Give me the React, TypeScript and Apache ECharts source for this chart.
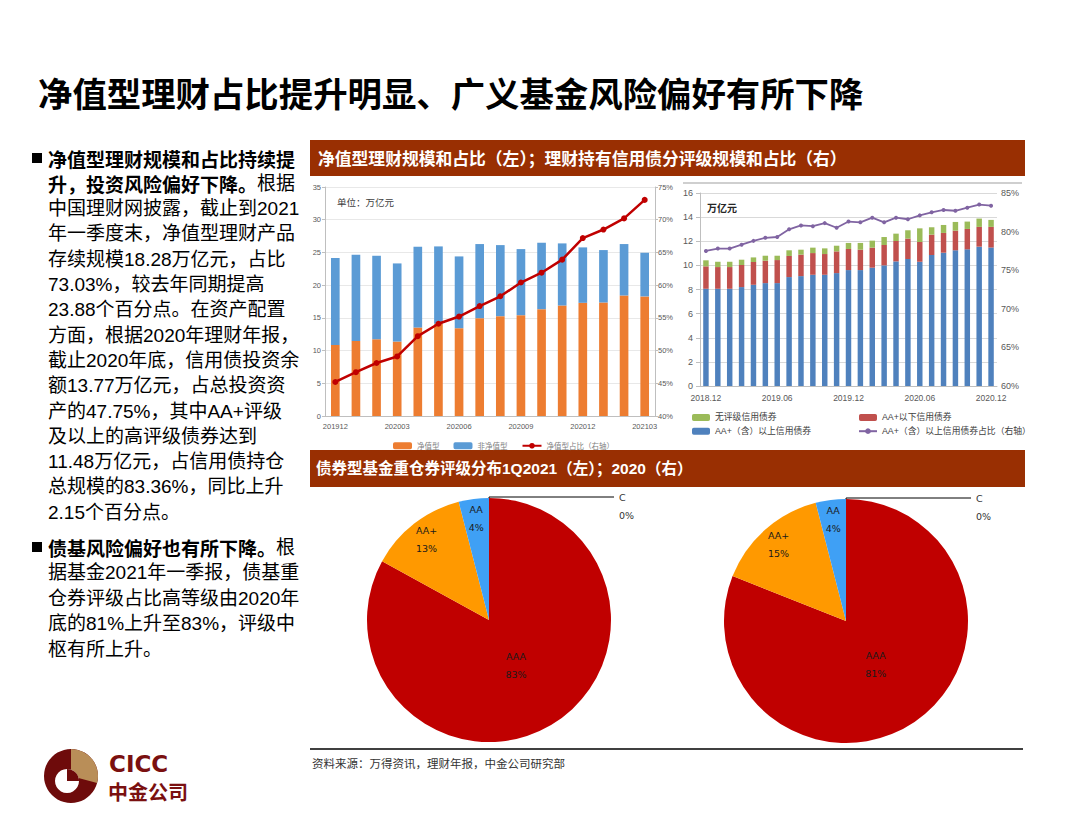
import React, { useEffect, useRef } from 'react';
import * as echarts from 'echarts';

// ---------- Data ----------
const leftMonths = ['201912', '202001', '202002', '202003', '202004', '202005', '202006', '202007', '202008', '202009', '202010', '202011', '202012', '202101', '202102', '202103'];
const netValueScale = [10.87, 11.48, 11.73, 11.38, 13.52, 14.1, 13.42, 14.95, 15.26, 15.41, 16.33, 16.89, 17.3, 17.35, 18.42, 18.28];
const nonNetValueScale = [13.26, 13.16, 12.76, 11.94, 12.35, 11.82, 10.97, 11.33, 10.86, 10.1, 10.15, 9.49, 8.47, 8.01, 7.86, 6.67];
const netValueRatio = [45.2, 46.7, 48.1, 49.1, 52.2, 54.1, 55.2, 56.8, 58.3, 60.4, 61.9, 63.9, 67.2, 68.5, 70.2, 73.03];

const rightMonths = ['2018.12', '2019.01', '2019.02', '2019.03', '2019.04', '2019.05', '2019.06', '2019.07', '2019.08', '2019.09', '2019.10', '2019.11', '2019.12', '2020.01', '2020.02', '2020.03', '2020.04', '2020.05', '2020.06', '2020.07', '2020.08', '2020.09', '2020.10', '2020.11', '2020.12'];
const aaPlusAbove = [8.06, 8.06, 8.06, 8.2, 8.39, 8.53, 8.53, 9.03, 9.11, 9.22, 9.22, 9.36, 9.61, 9.61, 9.81, 10.0, 10.33, 10.53, 10.3, 10.86, 11.05, 11.25, 11.33, 11.55, 11.48];
const belowAaPlus = [1.86, 1.8, 1.8, 1.83, 1.89, 1.86, 1.91, 1.75, 1.78, 1.8, 1.72, 1.8, 1.75, 1.69, 1.66, 1.69, 1.69, 1.69, 1.64, 1.69, 1.64, 1.63, 1.69, 1.64, 1.71];
const unrated = [0.5, 0.44, 0.44, 0.44, 0.38, 0.41, 0.36, 0.47, 0.41, 0.45, 0.47, 0.47, 0.5, 0.56, 0.58, 0.66, 0.61, 0.69, 1.13, 0.61, 0.66, 0.72, 0.61, 0.69, 0.58];
const aaPlusRatio = [77.5, 77.8, 77.8, 78.3, 78.8, 79.2, 79.3, 80.3, 80.8, 80.7, 81.1, 80.5, 81.3, 81.2, 81.8, 81.2, 81.8, 81.6, 82.1, 82.5, 82.8, 82.7, 83.1, 83.5, 83.36];

const ratingNames = ['C', 'AAA', 'AA+', 'AA'];
const rating1Q2021 = [0, 83, 13, 4];
const rating2020 = [0, 81, 15, 4];
const ratingColors = ['#7F7F7F', '#C00000', '#FF9900', '#3FA0F5'];

const slideTitle = '净值型理财占比提升明显、广义基金风险偏好有所下降';
const header1 = '净值型理财规模和占比（左）；理财持有信用债分评级规模和占比（右）';
const header2 = '债券型基金重仓券评级分布1Q2021（左）；2020（右）';
const sourceText = '资料来源：万得资讯，理财年报，中金公司研究部';

const bullet1Lines: Array<[string, string]> = [
  ['净值型理财规模和占比持续提', ''],
  ['升，投资风险偏好下降。', '根据'],
  ['', '中国理财网披露，截止到2021'],
  ['', '年一季度末，净值型理财产品'],
  ['', '存续规模18.28万亿元，占比'],
  ['', '73.03%，较去年同期提高'],
  ['', '23.88个百分点。在资产配置'],
  ['', '方面，根据2020年理财年报，'],
  ['', '截止2020年底，信用债投资余'],
  ['', '额13.77万亿元，占总投资资'],
  ['', '产的47.75%，其中AA+评级'],
  ['', '及以上的高评级债券达到'],
  ['', '11.48万亿元，占信用债持仓'],
  ['', '总规模的83.36%，同比上升'],
  ['', '2.15个百分点。'],
];
const bullet2Lines: Array<[string, string]> = [
  ['债基风险偏好也有所下降。', '根'],
  ['', '据基金2021年一季报，债基重'],
  ['', '仓券评级占比高等级由2020年'],
  ['', '底的81%上升至83%，评级中'],
  ['', '枢有所上升。'],
];

const CJK = '"Noto Sans CJK SC", sans-serif';
const MIX = '"Liberation Sans", "Noto Sans CJK SC", sans-serif';

function paragraph(lines: Array<[string, string]>, y0: number, step: number) {
  return lines.map(([b, n], i) => {
    let text = '';
    if (b) text += '{b|' + b + '}';
    if (n) text += '{n|' + n + '}';
    return {
      type: 'text',
      x: 48,
      y: y0 + i * step,
      style: {
        text,
        verticalAlign: 'middle',
        rich: {
          b: { fontSize: 19, fontWeight: 'bold', fontFamily: CJK, fill: '#000' },
          n: { fontSize: 19, fontWeight: 'normal', fontFamily: MIX, fill: '#000' },
        },
      },
    };
  });
}

const pieLabelText = (p: any) => p.name + '\n' + p.value + '%';

function pieSeries(center: [number, number], values: number[]) {
  const base = {
    type: 'pie',
    center,
    startAngle: 89.99,
    clockwise: true,
    avoidLabelOverlap: false,
    silent: true,
    emphasis: { disabled: true },
  };
  const labelStyle = {
    fontSize: 9.5,
    color: '#1a1a1a',
    lineHeight: 18,
    fontFamily: '"DejaVu Sans", sans-serif',
    formatter: pieLabelText,
  };
  return [
    {
      ...base,
      radius: 122,
      z: 2,
      data: ratingNames.map((name, i) => ({
        name,
        value: values[i],
        itemStyle: { color: ratingColors[i] },
        label:
          i === 0
            ? {
                show: true,
                position: 'outside',
                ...labelStyle,
                color: '#333',
                formatter: (p: any) => ' \n' + p.name + '\n' + p.value + '%',
              }
            : { show: false },
        labelLine:
          i === 0
            ? { show: true, length: 1, length2: 125, lineStyle: { color: '#000', width: 1 } }
            : { show: false },
      })),
    },
    {
      ...base,
      radius: [0, 100],
      z: 3,
      data: ratingNames.map((name, i) => ({
        name,
        value: values[i],
        itemStyle: { color: 'rgba(0,0,0,0)' },
        label: i === 1 ? { show: true, position: 'inside', ...labelStyle } : { show: false },
        labelLine: { show: false },
      })),
    },
    {
      ...base,
      radius: [76, 122],
      z: 3,
      data: ratingNames.map((name, i) => ({
        name,
        value: values[i],
        itemStyle: { color: 'rgba(0,0,0,0)' },
        label: i >= 2 ? { show: true, position: 'inside', ...labelStyle } : { show: false },
        labelLine: { show: false },
      })),
    },
  ];
}

const axisGray = '#BFBFBF';
const labelGray = '#595959';

const option: any = {
  animation: false,
  backgroundColor: '#fff',
  textStyle: { fontFamily: MIX },
  grid: [
    { left: 325, top: 187, width: 330, height: 229 },
    { left: 700, top: 193, width: 297, height: 193 },
  ],
  legend: [
    {
      data: ['净值型', '非净值型', '净值型占比（右轴）'],
      left: 388,
      top: 437,
      itemWidth: 19,
      itemHeight: 7,
      itemGap: 14,
      textStyle: { fontSize: 7.5, color: '#7F7F7F', fontFamily: CJK },
    },
    {
      data: ['无评级信用债券', 'AA+（含）以上信用债券'],
      orient: 'vertical',
      left: 687,
      top: 408,
      itemWidth: 18,
      itemHeight: 7,
      itemGap: 5,
      textStyle: { fontSize: 8.8, color: '#404040', fontFamily: MIX },
    },
    {
      data: ['AA+以下信用债券', 'AA+（含）以上信用债券占比（右轴）'],
      orient: 'vertical',
      left: 853,
      top: 408,
      itemWidth: 18,
      itemHeight: 7,
      itemGap: 5,
      textStyle: { fontSize: 8.8, color: '#404040', fontFamily: MIX },
    },
  ],
  xAxis: [
    {
      type: 'category',
      gridIndex: 0,
      data: leftMonths,
      axisLine: { lineStyle: { color: axisGray } },
      axisTick: { interval: 2, length: 4, lineStyle: { color: axisGray } },
      axisLabel: { interval: 2, fontSize: 7.5, color: labelGray, margin: 7 },
    },
    {
      type: 'category',
      gridIndex: 1,
      data: rightMonths,
      axisLine: { lineStyle: { color: axisGray } },
      axisTick: { interval: 5, length: 4, lineStyle: { color: axisGray } },
      axisLabel: { interval: 5, fontSize: 8.5, color: labelGray, margin: 8 },
    },
  ],
  yAxis: [
    {
      type: 'value',
      gridIndex: 0,
      min: 0,
      max: 35,
      interval: 5,
      axisLine: { show: true, lineStyle: { color: axisGray } },
      axisTick: { show: true, length: 3, lineStyle: { color: axisGray } },
      splitLine: { lineStyle: { color: '#E8E8E8' } },
      axisLabel: { fontSize: 7.5, color: labelGray, margin: 4 },
    },
    {
      type: 'value',
      gridIndex: 0,
      position: 'right',
      min: 40,
      max: 75,
      interval: 5,
      axisLine: { show: true, lineStyle: { color: axisGray } },
      axisTick: { show: true, length: 3, lineStyle: { color: axisGray } },
      splitLine: { show: false },
      axisLabel: { fontSize: 7.5, color: labelGray, margin: 3, formatter: '{value}%' },
    },
    {
      type: 'value',
      gridIndex: 1,
      min: 0,
      max: 16,
      interval: 2,
      axisLine: { show: true, lineStyle: { color: axisGray } },
      axisTick: { show: true, length: 4, lineStyle: { color: axisGray } },
      splitLine: { lineStyle: { color: '#D9D9D9' } },
      axisLabel: { fontSize: 9, color: labelGray, margin: 7 },
    },
    {
      type: 'value',
      gridIndex: 1,
      position: 'right',
      min: 60,
      max: 85,
      interval: 5,
      axisLine: { show: false },
      axisTick: { show: false },
      splitLine: { show: false },
      axisLabel: { fontSize: 9, color: labelGray, margin: 4, formatter: '{value}%' },
    },
  ],
  series: [
    {
      name: '净值型',
      type: 'bar',
      xAxisIndex: 0,
      yAxisIndex: 0,
      stack: 'wm',
      barWidth: '42%',
      itemStyle: { color: '#ED7D31' },
      data: netValueScale,
    },
    {
      name: '非净值型',
      type: 'bar',
      xAxisIndex: 0,
      yAxisIndex: 0,
      stack: 'wm',
      barWidth: '42%',
      itemStyle: { color: '#5B9BD5' },
      data: nonNetValueScale,
    },
    {
      name: '净值型占比（右轴）',
      type: 'line',
      xAxisIndex: 0,
      yAxisIndex: 1,
      symbol: 'circle',
      symbolSize: 6,
      itemStyle: { color: '#C00000' },
      lineStyle: { color: '#C00000', width: 2.5 },
      data: netValueRatio,
      z: 5,
    },
    {
      name: 'AA+（含）以上信用债券',
      type: 'bar',
      xAxisIndex: 1,
      yAxisIndex: 2,
      stack: 'cr',
      barWidth: '46%',
      itemStyle: { color: '#4F81BD' },
      data: aaPlusAbove,
    },
    {
      name: 'AA+以下信用债券',
      type: 'bar',
      xAxisIndex: 1,
      yAxisIndex: 2,
      stack: 'cr',
      barWidth: '46%',
      itemStyle: { color: '#C0504D' },
      data: belowAaPlus,
    },
    {
      name: '无评级信用债券',
      type: 'bar',
      xAxisIndex: 1,
      yAxisIndex: 2,
      stack: 'cr',
      barWidth: '46%',
      itemStyle: { color: '#9BBB59' },
      data: unrated,
    },
    {
      name: 'AA+（含）以上信用债券占比（右轴）',
      type: 'line',
      xAxisIndex: 1,
      yAxisIndex: 3,
      symbol: 'circle',
      symbolSize: 4,
      itemStyle: { color: '#8064A2' },
      lineStyle: { color: '#8064A2', width: 1.8 },
      data: aaPlusRatio,
      z: 5,
    },
    ...pieSeries([489, 620], rating1Q2021),
    ...pieSeries([846, 621], rating2020),
  ],
  graphic: [
    {
      type: 'text',
      x: 38,
      y: 92,
      style: { text: slideTitle, fontSize: 34.4, fontWeight: 'bold', fontFamily: CJK, fill: '#000', verticalAlign: 'middle' },
    },
    { type: 'rect', shape: { x: 32, y: 153, width: 10, height: 10 }, style: { fill: '#000' } },
    ...paragraph(bullet1Lines, 158, 25.3),
    { type: 'rect', shape: { x: 32, y: 542, width: 10, height: 10 }, style: { fill: '#000' } },
    ...paragraph(bullet2Lines, 547, 25.5),
    { type: 'rect', shape: { x: 310, y: 140, width: 715, height: 36 }, style: { fill: '#992F02' } },
    {
      type: 'text',
      x: 318,
      y: 158,
      style: { text: header1, fontSize: 16.8, fontWeight: 'bold', fontFamily: CJK, fill: '#fff', verticalAlign: 'middle' },
    },
    { type: 'rect', shape: { x: 310, y: 450, width: 715, height: 37 }, style: { fill: '#992F02' } },
    {
      type: 'text',
      x: 316,
      y: 468,
      style: { text: header2, fontSize: 15.5, fontWeight: 'bold', fontFamily: MIX, fill: '#fff', verticalAlign: 'middle' },
    },
    {
      type: 'text',
      x: 337,
      y: 202,
      style: { text: '单位：万亿元', fontSize: 9.5, fontFamily: CJK, fill: '#404040', verticalAlign: 'middle' },
    },
    {
      type: 'text',
      x: 707,
      y: 207,
      style: { text: '万亿元', fontSize: 10, fontWeight: 'bold', fontFamily: CJK, fill: '#262626', verticalAlign: 'middle' },
    },
    { type: 'line', shape: { x1: 683, y1: 183, x2: 1022, y2: 183 }, style: { stroke: '#BFBFBF', lineWidth: 1.5 } },
    { type: 'line', shape: { x1: 310, y1: 749, x2: 1023, y2: 749 }, style: { stroke: '#000', lineWidth: 1.5 } },
    {
      type: 'text',
      x: 312,
      y: 763,
      style: { text: sourceText, fontSize: 11.5, fontFamily: CJK, fill: '#333', verticalAlign: 'middle' },
    },
    // logo
    { type: 'circle', shape: { cx: 71, cy: 776, r: 27 }, style: { fill: '#6E0B0B' } },
    {
      type: 'sector',
      shape: { cx: 71, cy: 776, r: 27, r0: 0, startAngle: -Math.PI / 2, endAngle: Math.PI / 12, clockwise: true },
      style: { fill: '#B98E58' },
    },
    { type: 'circle', shape: { cx: 67, cy: 781, r: 12 }, style: { fill: '#fff' } },
    {
      type: 'sector',
      shape: { cx: 67, cy: 781, r: 12, r0: 0, startAngle: -Math.PI / 2, endAngle: 0, clockwise: true },
      style: { fill: '#6E0B0B' },
    },
    {
      type: 'text',
      x: 109,
      y: 764,
      style: { text: 'CICC', fontSize: 23, fontWeight: 'bold', fontFamily: '"DejaVu Sans", sans-serif', fill: '#7A1010', verticalAlign: 'middle' },
    },
    {
      type: 'text',
      x: 108,
      y: 791,
      style: { text: '中金公司', fontSize: 20, fontWeight: 'bold', fontFamily: CJK, fill: '#7A1010', verticalAlign: 'middle' },
    },
  ],
};

export default function App() {
  const ref = useRef<HTMLDivElement>(null);
  useEffect(() => {
    if (!ref.current) return;
    const chart = echarts.init(ref.current, undefined, { renderer: 'svg' });
    chart.setOption(option);
    return () => chart.dispose();
  }, []);
  return (
    <div
      ref={ref}
      style={{ position: 'absolute', left: 0, top: 0, width: 1080, height: 832, background: '#fff' }}
    />
  );
}
